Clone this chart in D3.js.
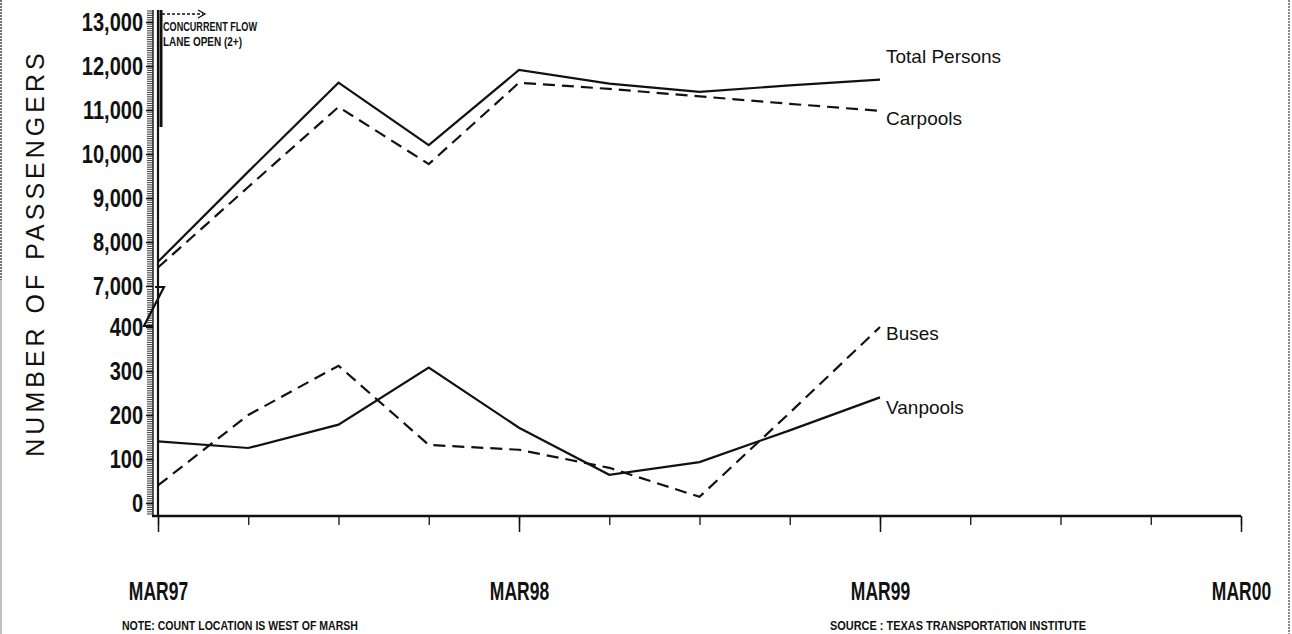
<!DOCTYPE html>
<html>
<head>
<meta charset="utf-8">
<script src="https://cdn.jsdelivr.net/npm/d3@7"></script>
<style>
  body { margin: 0; background: #fff; }
  svg { display: block; }
  text { font-family: "Liberation Sans", Arial, sans-serif; fill: #111; }
</style>
</head>
<body>
<div id="graph"></div>
<script>
// quarterly counts, west of Marsh
const quarters = ['MAR97', 'JUN97', 'SEP97', 'DEC97', 'MAR98', 'JUN98', 'SEP98', 'DEC98', 'MAR99'];
const totalPersons = [7550, 9600, 11620, 10200, 11910, 11600, 11410, 11560, 11690];
const carpools = [7420, 9250, 11070, 9770, 11620, 11480, 11310, 11140, 10980];
const buses = [40, 200, 312, 132, 121, 80, 14, 205, 400];
const vanpools = [140, 125, 178, 308, 171, 64, 93, 165, 240];

const yTicksUpper = [7000, 8000, 9000, 10000, 11000, 12000, 13000];
const yTicksLower = [0, 100, 200, 300, 400];
const xTickLabels = ['MAR97', 'MAR98', 'MAR99', 'MAR00'];

const w = 1292;
const h = 634;
const axisX = 158;
const axisY = 516;

const svg = d3.select('#graph')
    .append('svg')
    .attr('width', w)
    .attr('height', h);

// quarter index 0..12 = MAR97..MAR00
const xScale = d3.scaleLinear().domain([0, 12]).range([158, 1241]);
const yUpper = d3.scaleLinear().domain([7000, 13000]).range([286, 22]);
const yLower = d3.scaleLinear().domain([0, 400]).range([503, 327]);

// page frame edges
svg.append('line').attr('x1', 1).attr('x2', 1).attr('y1', 0).attr('y2', 280)
    .attr('stroke', '#444').attr('stroke-width', 1.5).attr('stroke-dasharray', '2,1');
svg.append('line').attr('x1', 1).attr('x2', 1).attr('y1', 280).attr('y2', h)
    .attr('stroke', '#aaa').attr('stroke-width', 1.5);
svg.append('line').attr('x1', 1289).attr('x2', 1289).attr('y1', 0).attr('y2', h)
    .attr('stroke', '#666').attr('stroke-width', 1.5).attr('stroke-dasharray', '2,1');

// ladder of minor ticks on y axis
const minorUpper = d3.range(7000, 13300, 50).map(v => yUpper(v));
const minorLower = d3.range(-25, 490, 5).map(v => yLower(v));
svg.append('g')
    .selectAll('line')
    .data(minorUpper.concat(minorLower))
    .enter()
    .append('line')
    .attr('x1', axisX - 11)
    .attr('x2', axisX - 5)
    .attr('y1', d => d)
    .attr('y2', d => d)
    .attr('stroke', '#222')
    .attr('stroke-width', 0.9);

svg.append('line').attr('x1', axisX - 5).attr('x2', axisX - 5).attr('y1', 10).attr('y2', axisY)
    .attr('stroke', '#222').attr('stroke-width', 1.5);
svg.append('line').attr('x1', axisX).attr('x2', axisX).attr('y1', 10).attr('y2', axisY)
    .attr('stroke', '#111').attr('stroke-width', 2.2);

// narrow the tick labels horizontally (no narrow font installed)
function condense(sel, factor) {
    sel.each(function () {
        const t = d3.select(this);
        const x = +t.attr('x') || 0;
        t.attr('x', x / factor).attr('transform', 'scale(' + factor + ',1)');
    });
}

const yAxisUpper = d3.axisLeft(yUpper).tickValues(yTicksUpper).tickFormat(d3.format(',')).tickSize(7).tickPadding(3);
const yAxisLower = d3.axisLeft(yLower).tickValues(yTicksLower).tickFormat(d3.format(',')).tickSize(7).tickPadding(3);

[yAxisUpper, yAxisLower].forEach(function (ax) {
    const g = svg.append('g')
        .attr('transform', 'translate(' + (axisX - 5) + ',0)')
        .call(ax);
    g.select('.domain').remove();
    g.selectAll('.tick line').attr('stroke', '#111').attr('stroke-width', 1.5);
    g.selectAll('.tick text')
        .style('font-family', '"Liberation Sans", Arial, sans-serif')
        .style('font-size', '25px')
        .style('font-weight', 'bold')
        .attr('fill', '#111');
    condense(g.selectAll('.tick text'), 0.8);
});

// axis break
svg.append('path')
    .attr('d', 'M' + (axisX - 3) + ',' + (yUpper(7000) + 1) + 'H' + (axisX + 6) + 'L' + (axisX - 14) + ',' + (yLower(400) - 1) + 'H' + (axisX - 5))
    .attr('fill', 'none')
    .attr('stroke', '#111')
    .attr('stroke-width', 2.2);

// x axis
svg.append('line').attr('x1', axisX - 6).attr('x2', xScale(12)).attr('y1', axisY).attr('y2', axisY)
    .attr('stroke', '#111').attr('stroke-width', 2.5);

const xMinor = d3.axisBottom(xScale).tickValues(d3.range(0, 13)).tickSize(9).tickFormat('');
const gxMinor = svg.append('g').attr('transform', 'translate(0,' + axisY + ')').call(xMinor);
gxMinor.select('.domain').remove();
gxMinor.selectAll('.tick line').attr('stroke', '#111').attr('stroke-width', 1.3);

const xMajor = d3.axisBottom(xScale).tickValues([0, 4, 8, 12]).tickSize(16).tickPadding(50)
    .tickFormat(d => xTickLabels[d / 4]);
const gx = svg.append('g').attr('id', 'x-axis').attr('transform', 'translate(0,' + axisY + ')').call(xMajor);
gx.select('.domain').remove();
gx.selectAll('.tick line').attr('stroke', '#111').attr('stroke-width', 1.5);
gx.selectAll('.tick text')
    .style('font-family', '"Liberation Sans", Arial, sans-serif')
    .style('font-size', '25px')
    .style('font-weight', 'bold')
    .attr('fill', '#111');
condense(gx.selectAll('.tick text'), 0.7);

// series
const lineUpper = d3.line().x((d, i) => xScale(i)).y(d => yUpper(d));
const lineLower = d3.line().x((d, i) => xScale(i)).y(d => yLower(d));

const series = [
    {name: 'Total Persons', values: totalPersons, line: lineUpper, y: yUpper, dash: null, dy: -17},
    {name: 'Carpools', values: carpools, line: lineUpper, y: yUpper, dash: '12,7', dy: 14},
    {name: 'Buses', values: buses, line: lineLower, y: yLower, dash: '12,7', dy: 13},
    {name: 'Vanpools', values: vanpools, line: lineLower, y: yLower, dash: null, dy: 17}
];

svg.selectAll('path.series')
    .data(series)
    .enter()
    .append('path')
    .attr('class', 'series')
    .attr('d', d => d.line(d.values))
    .attr('fill', 'none')
    .attr('stroke', '#111')
    .attr('stroke-width', 2.2)
    .attr('stroke-dasharray', d => d.dash);

svg.selectAll('text.series-label')
    .data(series)
    .enter()
    .append('text')
    .attr('class', 'series-label')
    .attr('x', xScale(quarters.length - 1) + 6)
    .attr('y', d => d.y(d.values[d.values.length - 1]) + d.dy)
    .style('font-size', '19px')
    .text(d => d.name);

// y title
svg.append('text')
    .attr('transform', 'translate(44,253) rotate(-90)')
    .attr('text-anchor', 'middle')
    .style('font-size', '25px')
    .style('letter-spacing', '4px')
    .text('NUMBER OF PASSENGERS');

// concurrent flow lane marker
svg.append('line').attr('x1', axisX + 3).attr('x2', axisX + 3).attr('y1', 10).attr('y2', 127)
    .attr('stroke', '#111').attr('stroke-width', 3);
svg.append('line').attr('x1', axisX + 4).attr('x2', 203).attr('y1', 14).attr('y2', 14)
    .attr('stroke', '#111').attr('stroke-width', 1.3).attr('stroke-dasharray', '3,2');
svg.append('path').attr('d', 'M198,10L205,14L198,18').attr('fill', 'none').attr('stroke', '#111').attr('stroke-width', 1.3);

const note1 = svg.append('text').attr('x', 163).attr('y', 31).style('font-size', '12px').style('font-weight', 'bold').text('CONCURRENT FLOW');
const note2 = svg.append('text').attr('x', 163).attr('y', 46).style('font-size', '12px').style('font-weight', 'bold').text('LANE OPEN (2+)');
note1.attr('textLength', 94).attr('lengthAdjust', 'spacingAndGlyphs');
note2.attr('textLength', 79).attr('lengthAdjust', 'spacingAndGlyphs');

// footer
svg.append('text').attr('x', 122).attr('y', 630).style('font-size', '12px').style('font-weight', 'bold')
    .attr('textLength', 236).attr('lengthAdjust', 'spacingAndGlyphs')
    .text('NOTE: COUNT LOCATION IS WEST OF MARSH');
svg.append('text').attr('x', 830).attr('y', 630).style('font-size', '12px').style('font-weight', 'bold')
    .attr('textLength', 256).attr('lengthAdjust', 'spacingAndGlyphs')
    .text('SOURCE : TEXAS TRANSPORTATION INSTITUTE');
</script>
</body>
</html>
